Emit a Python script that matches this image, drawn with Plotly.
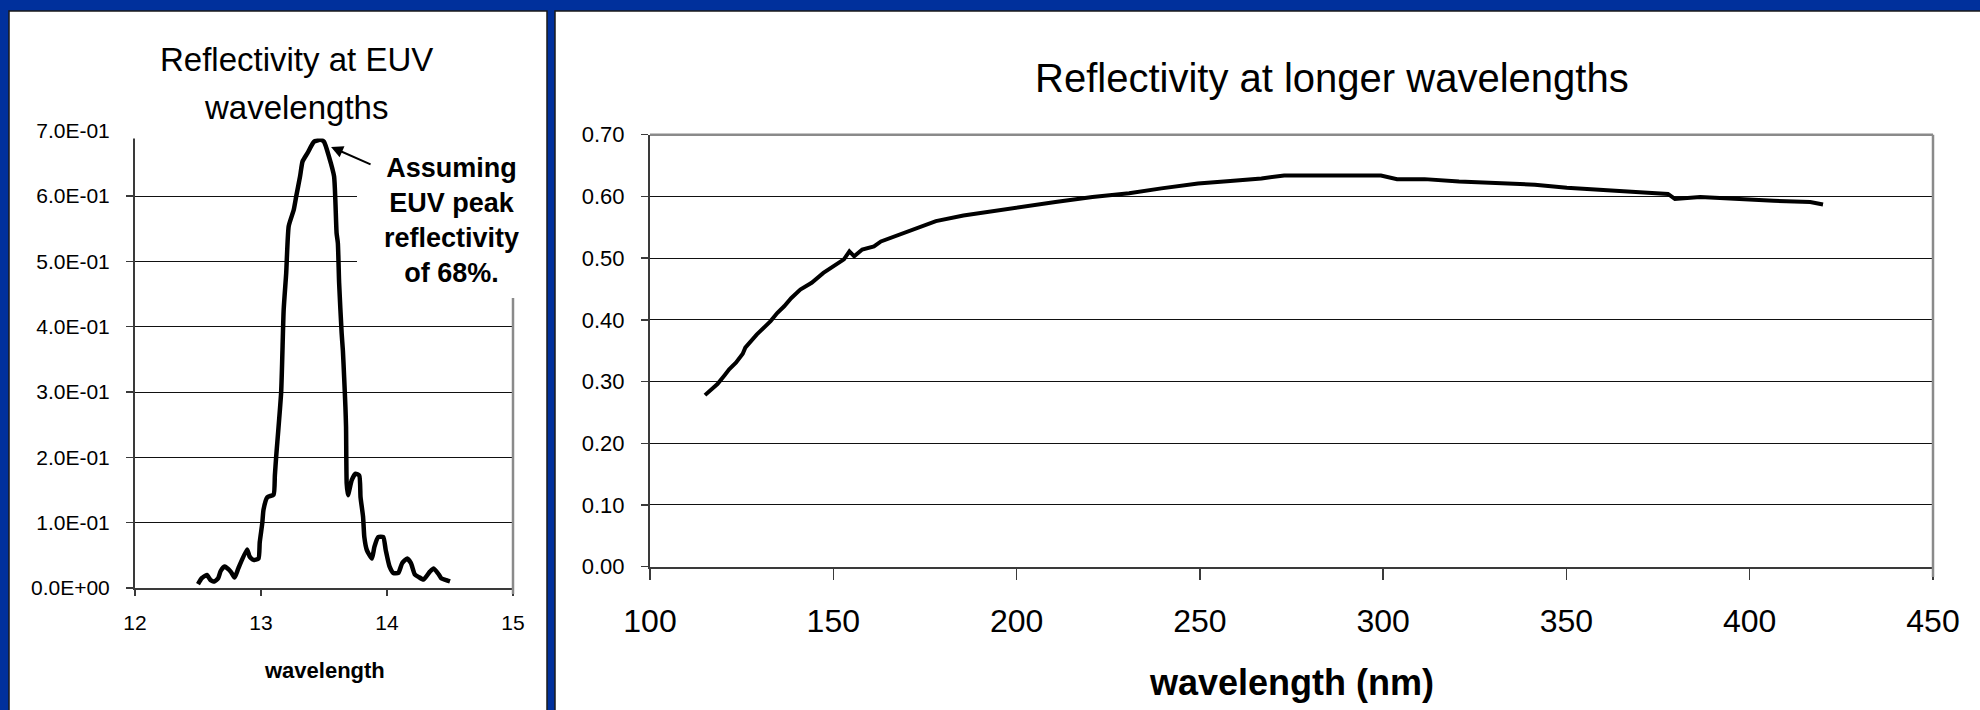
import plotly.graph_objects as go

# ---------------- data ----------------
euv_wl = [12.50, 12.53, 12.57, 12.60, 12.63, 12.66, 12.68, 12.71, 12.76, 12.79, 12.82, 12.89, 12.91,
          12.94, 12.98, 12.99, 13.01, 13.02, 13.05, 13.10, 13.11, 13.12, 13.16, 13.18, 13.20, 13.22,
          13.26, 13.28, 13.31, 13.33, 13.37, 13.42, 13.47, 13.50, 13.54, 13.58, 13.59, 13.60, 13.61,
          13.62, 13.64, 13.65, 13.66, 13.67, 13.675, 13.68, 13.69, 13.72, 13.75, 13.78, 13.79, 13.81,
          13.82, 13.84, 13.88, 13.90, 13.93, 13.97, 13.99, 14.02, 14.05, 14.09, 14.12, 14.16, 14.19,
          14.22, 14.25, 14.29, 14.34, 14.37, 14.41, 14.43, 14.47, 14.50]
euv_refl = [0.006, 0.015, 0.020, 0.012, 0.010, 0.015, 0.026, 0.033, 0.025, 0.016, 0.030, 0.059, 0.048,
            0.043, 0.045, 0.070, 0.099, 0.120, 0.139, 0.143, 0.172, 0.200, 0.300, 0.426, 0.482, 0.554,
            0.579, 0.600, 0.630, 0.653, 0.666, 0.683, 0.686, 0.683, 0.660, 0.630, 0.594, 0.543, 0.528,
            0.467, 0.390, 0.363, 0.322, 0.277, 0.246, 0.160, 0.142, 0.165, 0.175, 0.172, 0.139, 0.109,
            0.078, 0.058, 0.045, 0.063, 0.078, 0.078, 0.058, 0.033, 0.023, 0.023, 0.038, 0.045, 0.038,
            0.021, 0.017, 0.013, 0.025, 0.030, 0.021, 0.015, 0.012, 0.010]

long_wl = [115.0, 118.4, 120.3, 121.6, 123.5, 125.3, 126.0, 129.1, 132.9, 134.7, 136.6, 138.5, 141.0,
           144.1, 147.3, 150.4, 152.9, 154.4, 155.7, 157.9, 161.1, 163.0, 166.7, 171.7, 178.0, 185.5,
           193.0, 201.8, 210.6, 220.7, 230.7, 239.5, 249.5, 258.3, 266.8, 273.0, 281.2, 288.7, 299.4,
           303.8, 311.3, 320.7, 329.4, 341.4, 350.1, 358.9, 368.9, 377.7, 379.6, 386.5, 395.2, 406.5,
           416.5, 420.0]
long_refl = [0.278, 0.296, 0.310, 0.320, 0.331, 0.345, 0.355, 0.376, 0.398, 0.411, 0.422, 0.435, 0.449,
             0.460, 0.476, 0.489, 0.498, 0.511, 0.503, 0.514, 0.519, 0.527, 0.535, 0.546, 0.560, 0.569,
             0.576, 0.584, 0.591, 0.599, 0.605, 0.613, 0.621, 0.625, 0.629, 0.634, 0.634, 0.633, 0.634,
             0.628, 0.628, 0.624, 0.622, 0.619, 0.614, 0.610, 0.607, 0.604, 0.596, 0.599, 0.596, 0.593,
             0.591, 0.587]

euv_yticks = [0.0, 0.1, 0.2, 0.3, 0.4, 0.5, 0.6, 0.7]
euv_ytext = ["0.0E+00", "1.0E-01", "2.0E-01", "3.0E-01", "4.0E-01", "5.0E-01", "6.0E-01", "7.0E-01"]
euv_xticks = [12, 13, 14, 15]
long_yticks = [0.0, 0.1, 0.2, 0.3, 0.4, 0.5, 0.6, 0.7]
long_xticks = [100, 150, 200, 250, 300, 350, 400, 450]

# ---------------- layout helpers ----------------
W, H = 1980, 710
FONT = "Liberation Sans, Arial, sans-serif"
BLUE = "#00309c"


def px(x):
    return x / W


def py(y):
    return 1 - y / H


fig = go.Figure()
fig.add_trace(go.Scatter(x=euv_wl, y=euv_refl, mode="lines", xaxis="x", yaxis="y",
                         line=dict(color="black", width=4.5, shape="spline", smoothing=0.5),
                         showlegend=False, hoverinfo="skip"))
fig.add_trace(go.Scatter(x=long_wl, y=long_refl, mode="lines", xaxis="x2", yaxis="y2",
                         line=dict(color="black", width=4), showlegend=False, hoverinfo="skip"))

axis_common = dict(showline=True, linecolor="#3a3a3a", linewidth=2, ticks="outside",
                   tickcolor="#3a3a3a", zeroline=False, fixedrange=True, automargin=False)

fig.update_layout(
    width=W, height=H,
    margin=dict(l=0, r=0, t=0, b=0, pad=0, autoexpand=False),
    paper_bgcolor=BLUE,
    plot_bgcolor="white",
    font=dict(family=FONT, color="black"),
    xaxis=dict(domain=[px(135), px(513)], range=[12, 15], tickvals=euv_xticks,
               showgrid=False, ticklen=6, tickwidth=1.5, anchor="y",
               tickfont=dict(size=21), ticklabelstandoff=9, **axis_common),
    yaxis=dict(domain=[py(588), py(130.7)], range=[0, 0.7], tickvals=euv_yticks,
               ticktext=euv_ytext, showgrid=True, gridcolor="#111111", gridwidth=1,
               ticklen=7, tickwidth=1.5, anchor="x", tickfont=dict(size=21),
               ticklabelstandoff=12, **axis_common),
    xaxis2=dict(domain=[px(650), px(1933)], range=[100, 450], tickvals=long_xticks,
                showgrid=False, ticklen=11, tickwidth=1.5, anchor="y2",
                tickfont=dict(size=32), ticklabelstandoff=14, **axis_common),
    yaxis2=dict(domain=[py(566.7), py(134.7)], range=[0, 0.7], tickvals=long_yticks,
                tickformat=".2f", showgrid=True, gridcolor="#111111", gridwidth=1,
                ticklen=7, tickwidth=1.5, anchor="x2", tickfont=dict(size=22),
                ticklabelstandoff=12, **axis_common),
)

shapes = [
    # white panels
    dict(type="rect", xref="paper", yref="paper", x0=px(9), x1=px(547), y0=py(712), y1=py(11),
         fillcolor="white", line=dict(color="#1a1a1a", width=1.5), layer="below"),
    dict(type="rect", xref="paper", yref="paper", x0=px(555), x1=px(1985), y0=py(712), y1=py(11),
         fillcolor="white", line=dict(color="#1a1a1a", width=1.5), layer="below"),
    # right chart border (top / right), grey
    dict(type="line", xref="paper", yref="paper", x0=px(650), x1=px(1933), y0=py(134.7), y1=py(134.7),
         line=dict(color="#8a8a8a", width=2.5), layer="above"),
    dict(type="line", xref="paper", yref="paper", x0=px(1933), x1=px(1933), y0=py(134.7), y1=py(577),
         line=dict(color="#8a8a8a", width=2.5), layer="above"),
    # left chart right border (visible below the text box)
    dict(type="line", xref="paper", yref="paper", x0=px(513), x1=px(513), y0=py(298), y1=py(594),
         line=dict(color="#8a8a8a", width=2.5), layer="above"),
    # white boxes hiding the top of the left chart (title / annotation text boxes)
    dict(type="rect", xref="paper", yref="paper", x0=px(357), x1=px(532), y0=py(298), y1=py(95),
         fillcolor="white", line=dict(width=0), layer="above"),
    dict(type="rect", xref="paper", yref="paper", x0=px(120), x1=px(357), y0=py(138.5), y1=py(120),
         fillcolor="white", line=dict(width=0), layer="above"),
]
fig.update_layout(shapes=shapes)

annotations = [
    dict(text="Reflectivity at EUV", xref="paper", yref="paper",
         x=px(296), y=py(59), xanchor="center", yanchor="middle", showarrow=False,
         font=dict(size=33, family=FONT, color="black")),
    dict(text="wavelengths", xref="paper", yref="paper",
         x=px(296), y=py(107), xanchor="center", yanchor="middle", showarrow=False,
         font=dict(size=33, family=FONT, color="black")),
    dict(text="Reflectivity at longer wavelengths", xref="paper", yref="paper",
         x=px(1332), y=py(78), xanchor="center", yanchor="middle", showarrow=False,
         font=dict(size=40, family=FONT, color="black")),
    dict(text="<b>wavelength</b>", xref="paper", yref="paper",
         x=px(324), y=py(670), xanchor="center", yanchor="middle", showarrow=False,
         font=dict(size=22, family=FONT, color="black")),
    dict(text="<b>wavelength (nm)</b>", xref="paper", yref="paper",
         x=px(1291), y=py(682), xanchor="center", yanchor="middle", showarrow=False,
         font=dict(size=36, family=FONT, color="black")),
    dict(text="<b>Assuming<br>EUV peak<br>reflectivity<br>of 68%.</b>", xref="paper", yref="paper",
         x=px(451), y=py(220), xanchor="center", yanchor="middle", showarrow=False, align="center",
         font=dict(size=27, family=FONT, color="black")),
    dict(text="", xref="x", yref="y", x=13.556, y=0.675, ax=41, ay=18, axref="pixel", ayref="pixel",
         showarrow=True, arrowhead=2, arrowsize=1.2, arrowwidth=2, arrowcolor="black"),
]
fig.update_layout(annotations=annotations)

fig.write_html("out.html",
               config={"displayModeBar": False, "staticPlot": True},
               post_script="document.body.style.margin='0';document.body.style.overflow='hidden';")
